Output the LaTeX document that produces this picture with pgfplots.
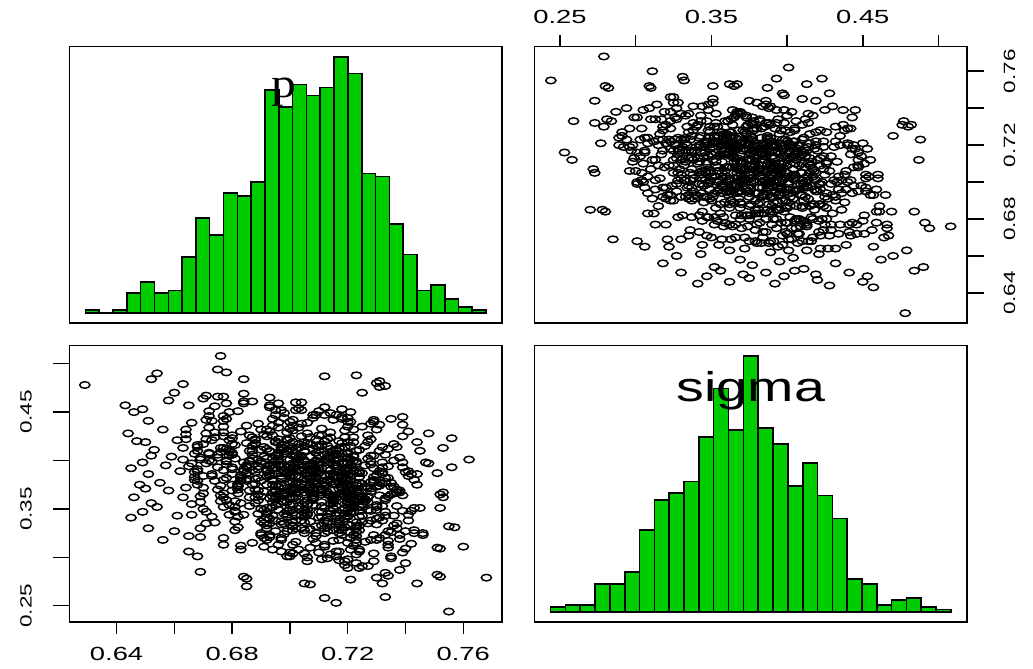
\documentclass[border=0pt]{standalone}
\usepackage{fontspec}
\setmainfont{Liberation Sans}
\newfontfamily\serifface{Liberation Serif}
\usepackage{pgfplots}
\usepackage{pgfplotstable}
\pgfplotsset{compat=1.18}
\definecolor{green3}{HTML}{00CD00}

% histogram of p: left bin edges and counts (last row closes the final bin)
\pgfplotstableread{
x c
0.6292 1
0.6340 0
0.6388 1
0.6435 7
0.6483 11
0.6531 7
0.6579 8
0.6627 20
0.6675 34
0.6722 28
0.6770 43
0.6818 42
0.6866 47
0.6914 80
0.6962 74
0.7009 82
0.7057 78
0.7105 81
0.7153 92
0.7201 86
0.7249 50
0.7296 49
0.7344 32
0.7392 21
0.7440 8
0.7488 10
0.7536 5
0.7583 2
0.7631 1
0.7679 0
}\phist

% histogram of sigma
\pgfplotstableread{
x c
0.2438 2
0.2536 3
0.2634 3
0.2732 12
0.2830 12
0.2928 17
0.3026 35
0.3124 48
0.3221 51
0.3319 56
0.3417 75
0.3515 96
0.3613 78
0.3711 110
0.3809 79
0.3907 72
0.4005 54
0.4103 64
0.4201 50
0.4299 40
0.4397 14
0.4495 12
0.4592 3
0.4690 5
0.4788 6
0.4886 2
0.4984 1
0.5082 0
}\shist

% posterior draws of (p, sigma)
\pgfplotstableread{
p s
0.629 0.478
0.643 0.457
0.644 0.428
0.645 0.392
0.646 0.362
0.645 0.341
0.647 0.420
0.648 0.375
0.646 0.450
0.652 0.484
0.649 0.453
0.651 0.441
0.650 0.419
0.652 0.405
0.649 0.398
0.651 0.386
0.650 0.371
0.652 0.356
0.649 0.347
0.651 0.330
0.654 0.490
0.656 0.432
0.653 0.411
0.657 0.395
0.655 0.377
0.654 0.352
0.656 0.318
0.658 0.462
0.660 0.470
0.661 0.421
0.659 0.404
0.662 0.389
0.658 0.369
0.661 0.343
0.660 0.327
0.665 0.306
0.668 0.301
0.669 0.285
0.676 0.508
0.675 0.494
0.678 0.491
0.684 0.484
0.684 0.280
0.685 0.278
0.685 0.270
0.705 0.273
0.707 0.272
0.712 0.487
0.712 0.258
0.716 0.253
0.721 0.277
0.723 0.488
0.725 0.470
0.730 0.480
0.731 0.476
0.731 0.482
0.733 0.477
0.730 0.279
0.732 0.273
0.733 0.259
0.734 0.281
0.739 0.437
0.739 0.445
0.741 0.430
0.744 0.273
0.748 0.397
0.747 0.398
0.748 0.428
0.746 0.323
0.746 0.325
0.745 0.410
0.745 0.351
0.753 0.367
0.753 0.362
0.752 0.365
0.753 0.413
0.752 0.309
0.751 0.310
0.752 0.351
0.752 0.280
0.751 0.282
0.751 0.387
0.757 0.331
0.756 0.393
0.756 0.423
0.755 0.332
0.755 0.244
0.762 0.401
0.760 0.311
0.768 0.279
0.663 0.401
0.666 0.344
0.664 0.422
0.667 0.380
0.665 0.457
0.663 0.362
0.666 0.397
0.664 0.432
0.667 0.388
0.665 0.322
0.663 0.413
0.666 0.439
0.664 0.372
0.667 0.407
0.665 0.394
0.663 0.479
0.666 0.355
0.664 0.427
0.667 0.383
0.668 0.416
0.671 0.335
0.669 0.401
0.672 0.446
0.670 0.366
0.668 0.389
0.671 0.422
0.669 0.321
0.672 0.408
0.670 0.464
0.668 0.375
0.671 0.397
0.669 0.357
0.672 0.434
0.670 0.384
0.668 0.414
0.671 0.347
0.669 0.403
0.672 0.451
0.670 0.372
0.668 0.391
0.671 0.428
0.669 0.330
0.672 0.407
0.670 0.417
0.668 0.379
0.671 0.467
0.669 0.363
0.672 0.400
0.670 0.350
0.668 0.410
0.671 0.442
0.673 0.384
0.676 0.364
0.674 0.429
0.677 0.313
0.675 0.393
0.673 0.421
0.676 0.374
0.674 0.456
0.677 0.352
0.675 0.403
0.673 0.386
0.676 0.413
0.674 0.336
0.677 0.435
0.675 0.370
0.673 0.399
0.676 0.358
0.674 0.424
0.677 0.390
0.675 0.466
0.673 0.342
0.676 0.409
0.674 0.379
0.677 0.366
0.675 0.406
0.673 0.441
0.677 0.320
0.680 0.393
0.678 0.382
0.681 0.416
0.679 0.354
0.677 0.429
0.680 0.375
0.678 0.399
0.681 0.347
0.679 0.409
0.677 0.466
0.680 0.369
0.678 0.396
0.681 0.328
0.679 0.421
0.677 0.380
0.680 0.426
0.678 0.359
0.681 0.402
0.679 0.344
0.677 0.413
0.680 0.386
0.678 0.443
0.681 0.337
0.679 0.450
0.677 0.425
0.680 0.406
0.678 0.400
0.681 0.348
0.679 0.411
0.677 0.441
0.680 0.417
0.678 0.459
0.681 0.352
0.680 0.408
0.677 0.446
0.680 0.423
0.678 0.412
0.681 0.358
0.679 0.405
0.677 0.362
0.680 0.391
0.682 0.451
0.685 0.381
0.683 0.430
0.686 0.353
0.684 0.461
0.682 0.374
0.685 0.436
0.683 0.379
0.686 0.426
0.684 0.344
0.682 0.366
0.685 0.418
0.683 0.356
0.686 0.410
0.684 0.391
0.682 0.370
0.685 0.387
0.683 0.312
0.686 0.362
0.684 0.469
0.682 0.373
0.685 0.393
0.683 0.381
0.686 0.400
0.684 0.389
0.682 0.376
0.685 0.395
0.683 0.383
0.686 0.399
0.684 0.459
0.682 0.342
0.685 0.379
0.683 0.308
0.686 0.369
0.684 0.398
0.682 0.331
0.685 0.394
0.683 0.385
0.687 0.402
0.690 0.399
0.688 0.388
0.691 0.349
0.689 0.394
0.687 0.461
0.690 0.323
0.688 0.421
0.691 0.339
0.689 0.438
0.687 0.410
0.690 0.350
0.688 0.376
0.691 0.427
0.689 0.382
0.687 0.415
0.690 0.325
0.688 0.356
0.691 0.311
0.689 0.365
0.687 0.424
0.690 0.337
0.688 0.362
0.691 0.320
0.689 0.369
0.687 0.390
0.690 0.432
0.688 0.422
0.691 0.414
0.689 0.345
0.687 0.406
0.690 0.363
0.688 0.417
0.691 0.335
0.689 0.359
0.687 0.315
0.690 0.411
0.688 0.370
0.691 0.404
0.689 0.391
0.687 0.375
0.690 0.397
0.688 0.381
0.691 0.368
0.689 0.401
0.688 0.418
0.690 0.379
0.692 0.345
0.695 0.360
0.693 0.455
0.696 0.355
0.694 0.343
0.692 0.390
0.695 0.370
0.693 0.409
0.696 0.459
0.694 0.352
0.692 0.330
0.695 0.374
0.693 0.465
0.696 0.434
0.694 0.363
0.692 0.391
0.695 0.405
0.693 0.430
0.696 0.365
0.694 0.426
0.692 0.333
0.695 0.386
0.693 0.340
0.696 0.373
0.694 0.436
0.692 0.383
0.695 0.393
0.693 0.323
0.696 0.396
0.694 0.402
0.692 0.318
0.695 0.338
0.693 0.384
0.696 0.404
0.694 0.381
0.692 0.432
0.695 0.368
0.693 0.321
0.696 0.406
0.694 0.443
0.692 0.425
0.695 0.369
0.693 0.410
0.696 0.422
0.694 0.379
0.692 0.351
0.695 0.420
0.693 0.394
0.696 0.349
0.694 0.357
0.692 0.347
0.695 0.362
0.693 0.395
0.696 0.408
0.694 0.308
0.692 0.341
0.695 0.354
0.693 0.385
0.696 0.439
0.694 0.367
0.692 0.375
0.695 0.447
0.693 0.361
0.696 0.400
0.694 0.375
0.692 0.402
0.695 0.419
0.693 0.387
0.696 0.418
0.694 0.380
0.692 0.389
0.695 0.452
0.693 0.335
0.696 0.395
0.694 0.398
0.692 0.412
0.695 0.327
0.693 0.457
0.696 0.313
0.694 0.392
0.697 0.411
0.700 0.376
0.698 0.345
0.701 0.355
0.699 0.401
0.697 0.306
0.700 0.369
0.698 0.413
0.701 0.385
0.699 0.301
0.697 0.374
0.700 0.412
0.698 0.394
0.701 0.419
0.699 0.386
0.697 0.334
0.700 0.440
0.698 0.390
0.701 0.431
0.699 0.342
0.697 0.413
0.700 0.395
0.698 0.444
0.701 0.346
0.699 0.429
0.697 0.337
0.700 0.349
0.698 0.363
0.699 0.357
0.697 0.387
0.697 0.382
0.700 0.378
0.698 0.335
0.701 0.362
0.699 0.387
0.697 0.394
0.700 0.389
0.698 0.416
0.701 0.405
0.699 0.422
0.697 0.320
0.700 0.360
0.698 0.357
0.700 0.384
0.699 0.409
0.697 0.358
0.700 0.354
0.698 0.365
0.701 0.370
0.699 0.327
0.697 0.396
0.700 0.401
0.698 0.449
0.701 0.436
0.699 0.348
0.697 0.381
0.700 0.423
0.698 0.367
0.699 0.421
0.699 0.411
0.697 0.384
0.700 0.305
0.698 0.366
0.701 0.393
0.699 0.388
0.697 0.452
0.700 0.301
0.698 0.324
0.701 0.397
0.699 0.344
0.697 0.318
0.700 0.433
0.698 0.371
0.701 0.410
0.701 0.304
0.704 0.330
0.702 0.362
0.705 0.415
0.703 0.399
0.701 0.328
0.704 0.404
0.702 0.384
0.705 0.374
0.703 0.413
0.701 0.336
0.704 0.405
0.702 0.397
0.705 0.400
0.703 0.350
0.701 0.372
0.704 0.452
0.702 0.370
0.705 0.357
0.703 0.401
0.701 0.378
0.704 0.460
0.702 0.372
0.705 0.367
0.703 0.390
0.701 0.370
0.704 0.389
0.702 0.376
0.705 0.381
0.703 0.454
0.701 0.332
0.704 0.343
0.702 0.375
0.705 0.349
0.703 0.417
0.701 0.313
0.704 0.425
0.702 0.338
0.705 0.410
0.703 0.308
0.701 0.397
0.704 0.390
0.702 0.343
0.705 0.336
0.703 0.391
0.701 0.355
0.704 0.393
0.702 0.389
0.705 0.328
0.705 0.419
0.701 0.414
0.704 0.438
0.702 0.460
0.705 0.304
0.703 0.434
0.701 0.333
0.704 0.338
0.702 0.452
0.705 0.342
0.703 0.368
0.701 0.361
0.704 0.375
0.702 0.405
0.705 0.386
0.703 0.383
0.701 0.442
0.704 0.376
0.702 0.404
0.705 0.409
0.703 0.403
0.701 0.388
0.704 0.372
0.702 0.330
0.705 0.346
0.703 0.360
0.701 0.410
0.704 0.370
0.702 0.316
0.705 0.325
0.703 0.353
0.701 0.349
0.706 0.394
0.709 0.447
0.707 0.404
0.710 0.341
0.708 0.378
0.706 0.381
0.709 0.379
0.707 0.417
0.710 0.426
0.708 0.364
0.706 0.359
0.709 0.376
0.707 0.382
0.710 0.305
0.708 0.354
0.706 0.428
0.709 0.391
0.707 0.381
0.710 0.414
0.708 0.397
0.706 0.296
0.709 0.353
0.707 0.424
0.710 0.451
0.708 0.371
0.706 0.300
0.709 0.315
0.707 0.337
0.710 0.387
0.708 0.412
0.706 0.418
0.709 0.389
0.707 0.394
0.710 0.398
0.708 0.366
0.706 0.396
0.709 0.377
0.707 0.310
0.710 0.347
0.708 0.319
0.706 0.349
0.709 0.332
0.707 0.329
0.710 0.410
0.708 0.361
0.706 0.355
0.709 0.408
0.707 0.367
0.710 0.396
0.708 0.362
0.706 0.384
0.709 0.387
0.707 0.375
0.710 0.405
0.708 0.444
0.706 0.371
0.709 0.422
0.707 0.369
0.710 0.392
0.708 0.360
0.706 0.344
0.709 0.375
0.707 0.396
0.709 0.415
0.708 0.447
0.706 0.439
0.709 0.325
0.707 0.384
0.709 0.400
0.708 0.391
0.706 0.346
0.709 0.383
0.707 0.390
0.708 0.395
0.708 0.389
0.706 0.354
0.709 0.322
0.711 0.370
0.714 0.386
0.712 0.406
0.715 0.410
0.713 0.380
0.711 0.365
0.714 0.363
0.712 0.338
0.715 0.359
0.713 0.335
0.711 0.357
0.714 0.355
0.712 0.447
0.715 0.358
0.713 0.327
0.711 0.298
0.714 0.424
0.712 0.325
0.715 0.328
0.713 0.367
0.711 0.347
0.714 0.449
0.712 0.377
0.715 0.383
0.713 0.299
0.711 0.369
0.714 0.345
0.712 0.351
0.715 0.376
0.713 0.404
0.711 0.433
0.714 0.403
0.712 0.375
0.715 0.395
0.713 0.402
0.711 0.371
0.714 0.412
0.712 0.385
0.715 0.364
0.713 0.379
0.711 0.392
0.714 0.378
0.712 0.384
0.715 0.360
0.713 0.392
0.711 0.426
0.714 0.348
0.712 0.400
0.715 0.350
0.713 0.365
0.711 0.416
0.714 0.303
0.712 0.311
0.715 0.356
0.713 0.331
0.711 0.353
0.714 0.385
0.712 0.374
0.715 0.405
0.713 0.337
0.711 0.342
0.714 0.408
0.712 0.313
0.715 0.362
0.713 0.341
0.711 0.333
0.714 0.390
0.712 0.330
0.715 0.369
0.713 0.415
0.711 0.367
0.714 0.429
0.712 0.420
0.715 0.317
0.713 0.422
0.711 0.379
0.714 0.398
0.712 0.455
0.715 0.442
0.716 0.306
0.719 0.292
0.717 0.337
0.720 0.397
0.718 0.407
0.716 0.406
0.719 0.365
0.717 0.306
0.720 0.435
0.718 0.385
0.716 0.361
0.719 0.296
0.717 0.297
0.720 0.393
0.718 0.382
0.716 0.301
0.719 0.340
0.717 0.413
0.720 0.440
0.718 0.443
0.716 0.392
0.719 0.363
0.717 0.325
0.720 0.381
0.718 0.373
0.716 0.376
0.719 0.414
0.717 0.335
0.720 0.367
0.718 0.453
0.716 0.410
0.719 0.386
0.717 0.378
0.720 0.356
0.718 0.375
0.716 0.401
0.719 0.390
0.717 0.363
0.720 0.403
0.718 0.328
0.716 0.396
0.719 0.392
0.717 0.379
0.720 0.408
0.718 0.445
0.716 0.447
0.719 0.431
0.717 0.377
0.720 0.348
0.718 0.372
0.716 0.388
0.719 0.377
0.717 0.371
0.720 0.342
0.718 0.404
0.716 0.353
0.719 0.345
0.717 0.402
0.720 0.362
0.718 0.398
0.716 0.383
0.719 0.331
0.717 0.420
0.720 0.407
0.718 0.387
0.716 0.384
0.719 0.355
0.717 0.365
0.720 0.374
0.718 0.383
0.716 0.346
0.719 0.351
0.717 0.339
0.720 0.315
0.718 0.397
0.716 0.394
0.719 0.368
0.717 0.333
0.720 0.326
0.718 0.349
0.716 0.411
0.719 0.424
0.717 0.329
0.720 0.360
0.718 0.418
0.716 0.337
0.719 0.380
0.717 0.318
0.720 0.357
0.718 0.323
0.716 0.343
0.720 0.366
0.723 0.387
0.721 0.351
0.724 0.308
0.722 0.424
0.720 0.289
0.723 0.318
0.721 0.347
0.724 0.333
0.722 0.419
0.720 0.364
0.723 0.397
0.721 0.355
0.724 0.306
0.722 0.359
0.720 0.381
0.723 0.336
0.721 0.346
0.724 0.377
0.722 0.351
0.720 0.419
0.723 0.303
0.721 0.379
0.724 0.360
0.722 0.364
0.720 0.398
0.723 0.376
0.721 0.369
0.724 0.342
0.722 0.404
0.720 0.343
0.723 0.330
0.721 0.415
0.724 0.366
0.722 0.347
0.720 0.403
0.723 0.294
0.721 0.440
0.724 0.411
0.722 0.353
0.720 0.393
0.723 0.374
0.721 0.401
0.724 0.328
0.722 0.371
0.720 0.391
0.723 0.326
0.721 0.320
0.724 0.289
0.722 0.355
0.720 0.358
0.723 0.410
0.721 0.370
0.724 0.383
0.722 0.400
0.720 0.444
0.723 0.368
0.721 0.395
0.724 0.352
0.722 0.312
0.720 0.407
0.723 0.315
0.721 0.308
0.724 0.364
0.722 0.432
0.720 0.298
0.723 0.322
0.721 0.450
0.724 0.387
0.722 0.405
0.720 0.385
0.723 0.399
0.721 0.384
0.724 0.348
0.722 0.323
0.720 0.334
0.722 0.389
0.721 0.333
0.724 0.362
0.722 0.390
0.720 0.389
0.723 0.332
0.721 0.372
0.724 0.389
0.725 0.343
0.728 0.348
0.726 0.415
0.729 0.378
0.727 0.363
0.725 0.355
0.728 0.338
0.726 0.316
0.729 0.304
0.727 0.291
0.725 0.435
0.728 0.371
0.726 0.373
0.729 0.323
0.727 0.426
0.725 0.337
0.728 0.378
0.726 0.360
0.729 0.392
0.727 0.419
0.725 0.352
0.728 0.422
0.726 0.395
0.729 0.380
0.727 0.335
0.725 0.376
0.728 0.405
0.726 0.358
0.729 0.440
0.727 0.372
0.725 0.291
0.728 0.368
0.727 0.357
0.729 0.383
0.727 0.402
0.725 0.363
0.728 0.318
0.728 0.396
0.729 0.296
0.727 0.362
0.725 0.387
0.728 0.399
0.726 0.360
0.729 0.405
0.727 0.349
0.725 0.360
0.728 0.438
0.726 0.373
0.729 0.442
0.730 0.354
0.733 0.343
0.731 0.410
0.734 0.313
0.732 0.353
0.730 0.373
0.733 0.382
0.731 0.364
0.734 0.412
0.732 0.386
0.730 0.349
0.733 0.359
0.731 0.374
0.734 0.327
0.732 0.388
0.730 0.334
0.733 0.347
0.731 0.341
0.734 0.382
0.732 0.398
0.730 0.432
0.733 0.378
0.731 0.437
0.734 0.394
0.732 0.338
0.730 0.352
0.733 0.284
0.731 0.377
0.734 0.317
0.732 0.393
0.730 0.340
0.733 0.323
0.731 0.389
0.734 0.310
0.732 0.414
0.730 0.385
0.733 0.406
0.731 0.320
0.734 0.363
0.732 0.376
0.730 0.318
0.733 0.361
0.735 0.299
0.738 0.403
0.736 0.400
0.739 0.398
0.737 0.335
0.735 0.373
0.738 0.319
0.736 0.417
0.739 0.425
0.737 0.353
0.735 0.365
0.738 0.367
0.736 0.373
0.739 0.305
0.737 0.370
0.735 0.326
0.738 0.287
0.736 0.366
0.739 0.393
0.737 0.367
0.735 0.377
0.738 0.323
0.736 0.333
0.739 0.348
0.737 0.330
0.735 0.443
0.738 0.369
0.736 0.343
0.739 0.364
0.737 0.414
0.735 0.301
0.740 0.294
0.743 0.380
0.741 0.344
0.744 0.419
0.742 0.386
0.740 0.327
0.743 0.325
0.741 0.338
0.744 0.375
0.742 0.348
0.740 0.388
0.743 0.351
0.741 0.384
0.744 0.386
0.742 0.314
0.740 0.309
0.743 0.328
0.741 0.389
}\draws

\tikzset{
  hlabel/.style={font=\fontsize{19}{19}\selectfont, anchor=base, xscale=1.44},
  vlabel/.style={font=\fontsize{16.3}{16.3}\selectfont, rotate=90, xscale=1.38, anchor=base},
}
\pgfplotsset{
  panel/.style={scale only axis, width=432.5pt, height=276.5pt, anchor=south west,
    axis line style={line width=1.5pt}, tick style={line width=1.5pt, black},
    tick align=outside, xtick=\empty, ytick=\empty},
  dots/.style={only marks, mark=o, mark size=3.3pt, black,
    mark options={xscale=1.55, line width=1.45pt}},
  bars/.style={ybar interval, fill=green3, draw=black, line width=1.6pt},
}

\begin{document}
\begin{tikzpicture}[x=1pt, y=1pt]
\useasboundingbox (0,0) rectangle (1033,669);

% top left: histogram of p
\begin{axis}[panel, at={(69.5pt,346pt)},
  xmin=0.6237, xmax=0.7734, ymin=-3.68, ymax=95.68]
  \addplot[bars] table[x=x, y=c] {\phist};
\end{axis}
\node[font=\serifface\fontsize{41.5}{41.5}\selectfont, anchor=base, xscale=1.2] at (284.2,571) {p};

% top right: p against sigma, sigma ticks on top
\begin{axis}[panel, at={(534.5pt,346pt)},
  xmin=0.2332, xmax=0.5188, ymin=0.6237, ymax=0.7734,
  xtick={0.25,0.30,0.35,0.40,0.45,0.50},
  xticklabels={0.25,{},0.35,{},0.45,{}},
  xtick pos=right, xticklabel pos=right, major tick length=11.7pt,
  xticklabel style={hlabel}, xticklabel shift=11.5pt]
  \addplot[dots] table[x=s, y=p] {\draws};
\end{axis}
% p ticks on the right
\begin{axis}[panel, at={(534.5pt,346pt)},
  xmin=0.2332, xmax=0.5188, ymin=0.6237, ymax=0.7734,
  ytick={0.64,0.66,0.68,0.70,0.72,0.74,0.76},
  yticklabels={0.64,{},0.68,{},0.72,{},0.76},
  ytick pos=right, yticklabel pos=right, major tick length=16.7pt,
  yticklabel style={vlabel}, yticklabel shift=31.3pt]
\end{axis}

% bottom left: sigma against p, p ticks below
\begin{axis}[panel, at={(69.5pt,47pt)},
  xmin=0.6237, xmax=0.7734, ymin=0.2332, ymax=0.5188,
  xtick={0.64,0.66,0.68,0.70,0.72,0.74,0.76},
  xticklabels={0.64,{},0.68,{},0.72,{},0.76},
  xtick pos=left, xticklabel pos=left, major tick length=11.7pt,
  xticklabel style={hlabel}, xticklabel shift=27.3pt]
  \addplot[dots] table[x=p, y=s] {\draws};
\end{axis}
% sigma ticks on the left
\begin{axis}[panel, at={(69.5pt,47pt)},
  xmin=0.6237, xmax=0.7734, ymin=0.2332, ymax=0.5188,
  ytick={0.25,0.30,0.35,0.40,0.45,0.50},
  yticklabels={0.25,{},0.35,{},0.45,{}},
  ytick pos=left, yticklabel pos=left, major tick length=16.7pt,
  yticklabel style={vlabel}, yticklabel shift=21.1pt]
\end{axis}

% bottom right: histogram of sigma
\begin{axis}[panel, at={(534.5pt,47pt)},
  xmin=0.2332, xmax=0.5188, ymin=-4.4, ymax=114.4]
  \addplot[bars] table[x=x, y=c] {\shist};
\end{axis}
\node[font=\fontsize{41.5}{41.5}\selectfont, anchor=base, xscale=1.34] at (751,267.3) {sigma};
\end{tikzpicture}
\end{document}
